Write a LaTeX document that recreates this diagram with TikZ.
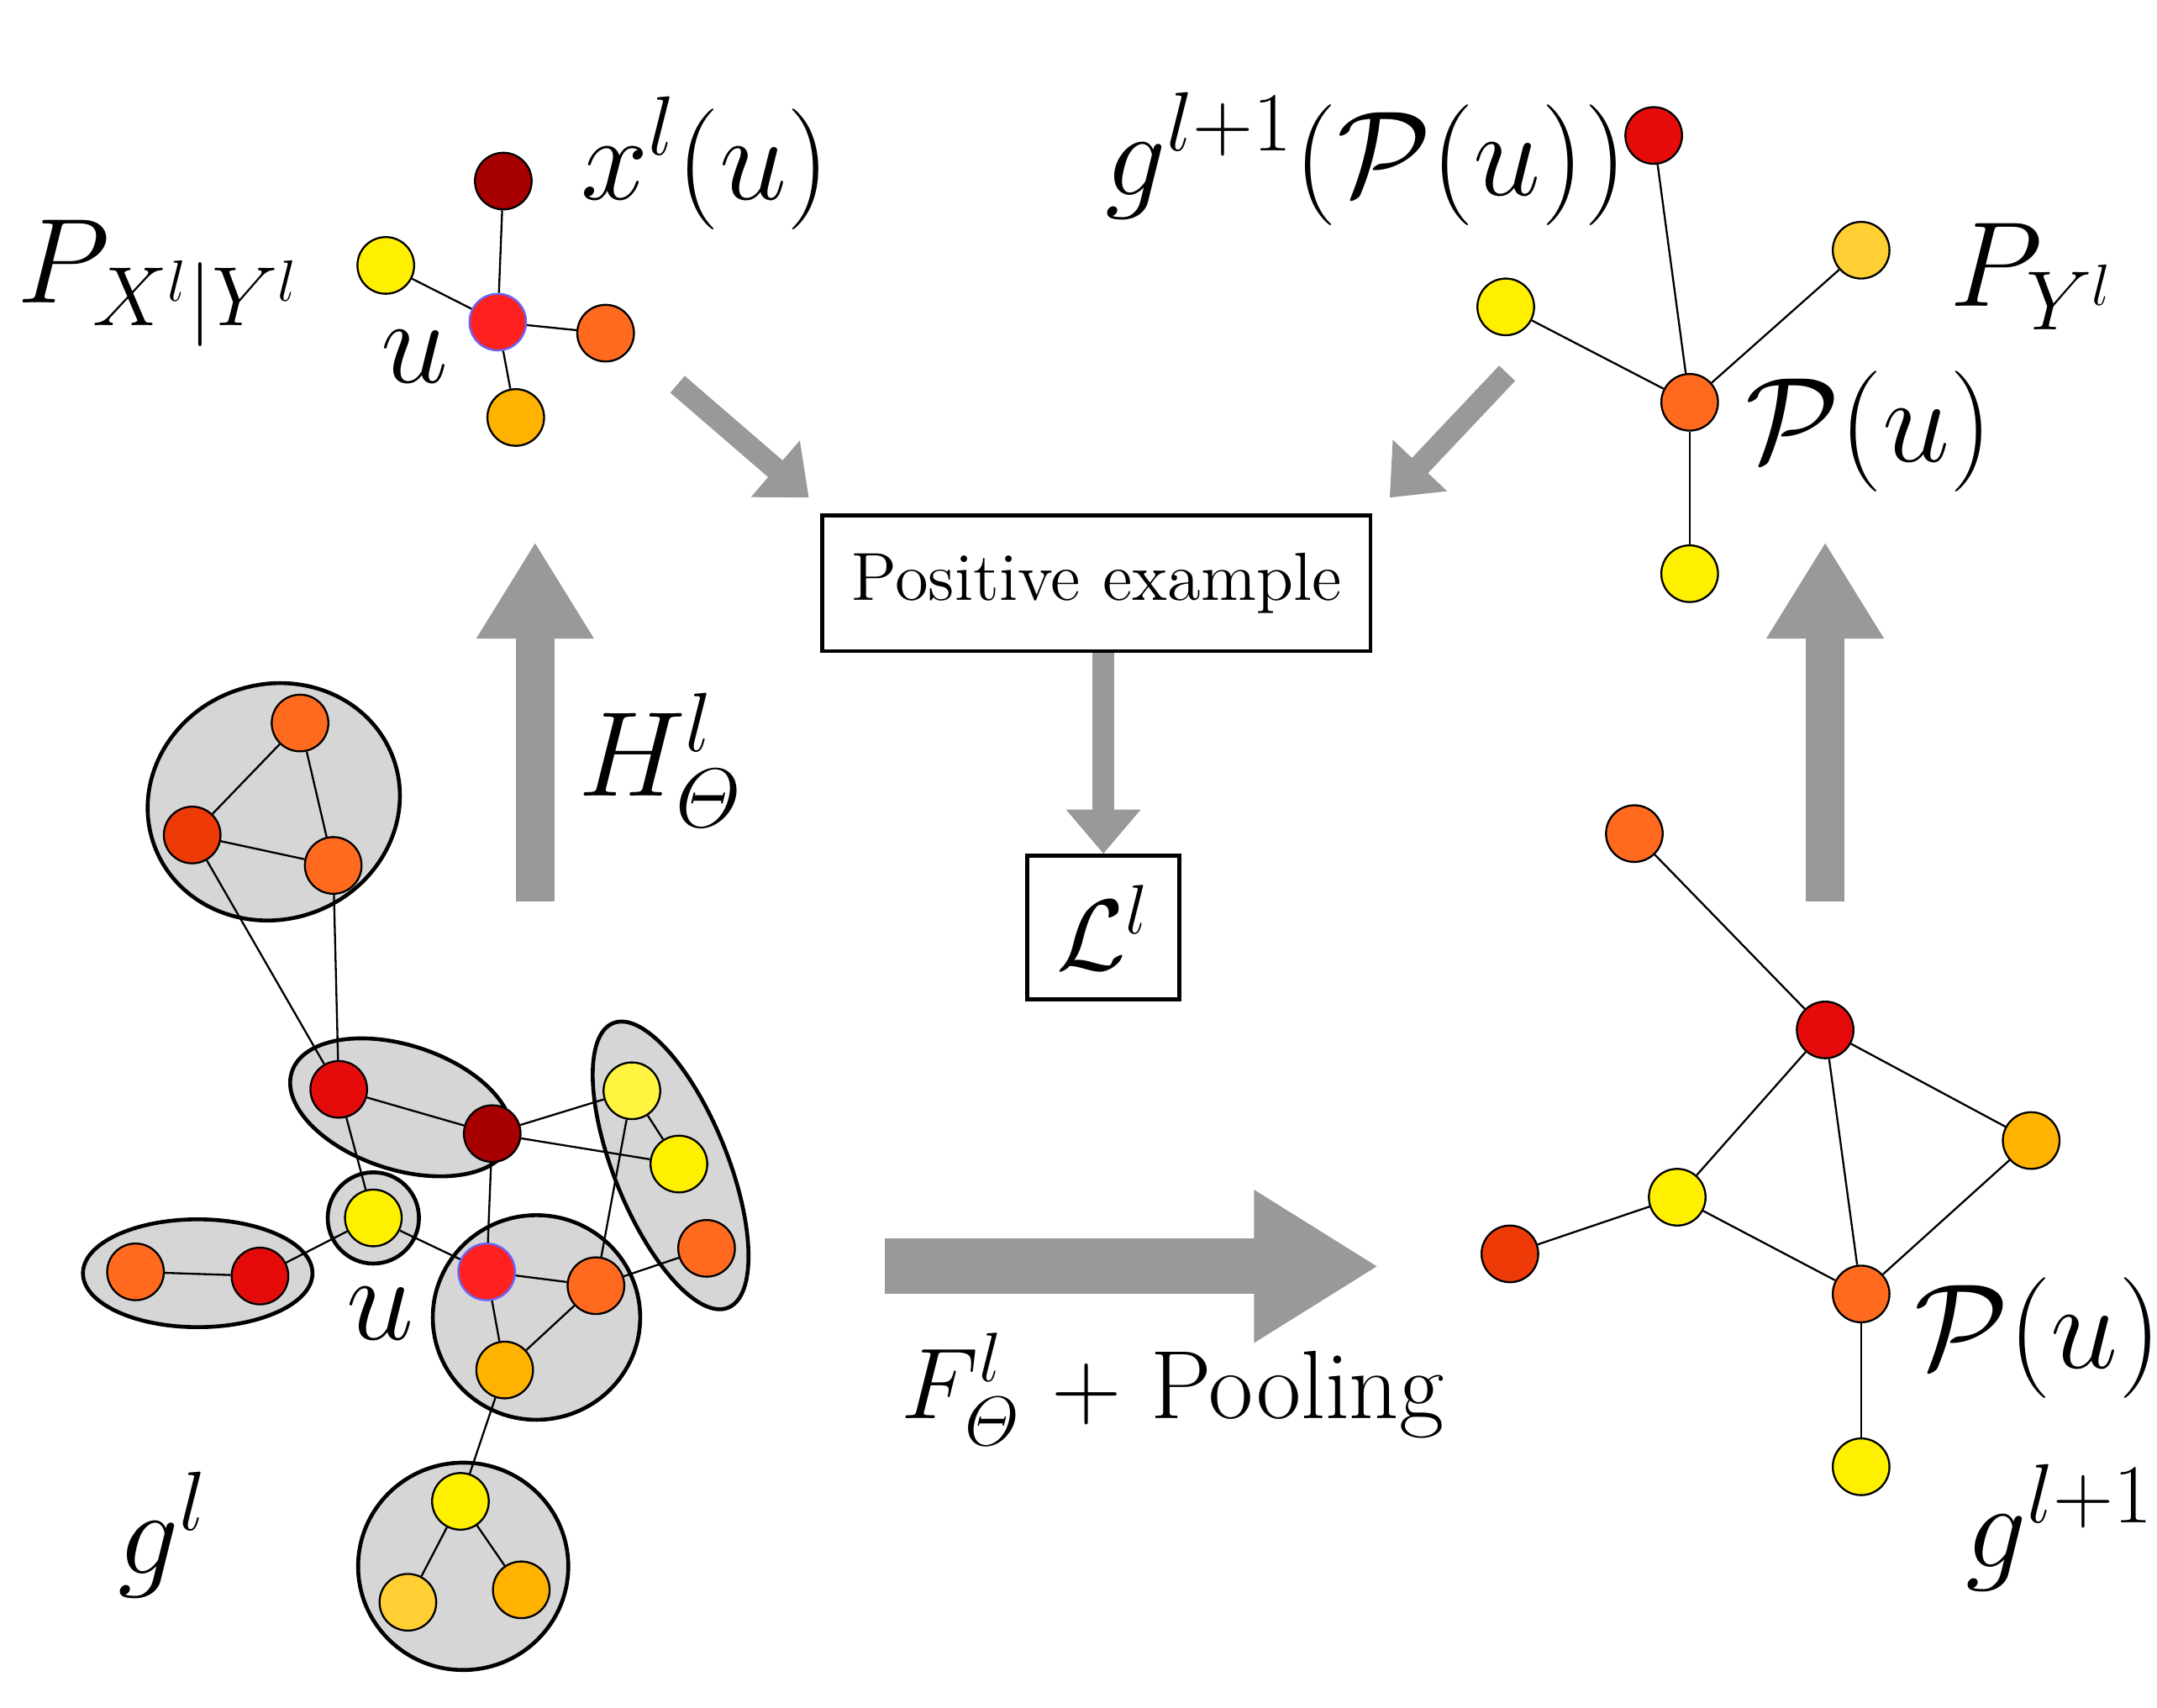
\documentclass[tikz,border=0pt]{standalone}
\usepackage{amsmath,amssymb}
\usepackage{tikz}
\usetikzlibrary{calc,positioning,arrows,arrows.meta,shapes.geometric}
\pgfdeclarelayer{background}
\pgfsetlayers{background,main}
\definecolor{cdark}{HTML}{A80000}
\definecolor{cred}{HTML}{E60B0B}
\definecolor{cured}{HTML}{FF2020}
\definecolor{corange}{HTML}{FF6A1E}
\definecolor{cored}{HTML}{EE3A06}
\definecolor{camber}{HTML}{FFB300}
\definecolor{cgold}{HTML}{FFCF33}
\definecolor{cyellow}{HTML}{FFF000}
\definecolor{clight}{HTML}{FFF540}
\definecolor{carrow}{HTML}{999999}
\tikzset{
    >=stealth',
    vert/.style={circle, draw=black, thin, minimum size=0.41cm, inner sep=0pt},
    cluster/.style={ellipse, draw=black, thick, fill=black!16, inner sep=0pt},
    edge/.style={draw, thin},
    thinarrow/.style={draw=carrow, line width=1.6mm, -{Triangle[length=3.2mm,width=5.2mm]}},
    box/.style={rectangle, draw, thick, inner sep=6pt},
    biglabel/.style={font=\fontsize{23pt}{27pt}\selectfont},
}
\begin{document}
\begin{tikzpicture}[x=0.1mm,y=-0.1mm]
\useasboundingbox (0,0) rectangle (1560,1235);
% clusters
\begin{pgfonlayer}{background}
\node[cluster, minimum width=1.84cm, minimum height=1.7cm, rotate=20] (k1) at (198,580) {};
\node[cluster, minimum width=1.66cm, minimum height=0.9cm, rotate=-18] (k2) at (290,801) {};
\node[cluster, minimum width=0.82cm, minimum height=2.22cm, rotate=22] (k3) at (485,843) {};
\node[cluster, minimum width=0.66cm, minimum height=0.66cm] (k4) at (270,881) {};
\node[cluster, minimum width=1.66cm, minimum height=0.78cm] (k5) at (143,921) {};
\node[cluster, minimum width=1.5cm, minimum height=1.48cm] (k6) at (388,953) {};
\node[cluster, minimum width=1.52cm, minimum height=1.5cm] (k7) at (335,1133) {};
\end{pgfonlayer}
% graph g^l
\node[vert, fill=corange] (a1) at (217,523) {};
\node[vert, fill=cored] (a2) at (139,604) {};
\node[vert, fill=corange] (a3) at (241,626) {};
\node[vert, fill=cred] (b1) at (245,788) {};
\node[vert, fill=cdark] (b2) at (356,820) {};
\node[vert, fill=clight] (c1) at (457,789) {};
\node[vert, fill=cyellow] (c2) at (491,842) {};
\node[vert, fill=corange] (c3) at (511,903) {};
\node[vert, fill=cyellow] (d1) at (270,881) {};
\node[vert, fill=corange] (e1) at (98,920) {};
\node[vert, fill=cred] (e2) at (188,923) {};
\node[vert, fill=cured, draw=blue!60] (f1) at (352,920) {};
\node[vert, fill=corange] (f2) at (431,930) {};
\node[vert, fill=camber] (f3) at (365,991) {};
\node[vert, fill=cyellow] (h1) at (333,1086) {};
\node[vert, fill=cgold] (h2) at (295,1159) {};
\node[vert, fill=camber] (h3) at (377,1150) {};
\foreach \s/\t in {a1/a2,a2/a3,a1/a3,a2/b1,a3/b1,b1/b2,b1/d1,b2/c1,b2/c2,b2/f1,
    d1/e2,e1/e2,d1/f1,f1/f2,f1/f3,f2/f3,f2/c1,f2/c3,c1/c2,f3/h1,h1/h2,h1/h3}
    \draw[edge] (\s) -- (\t);
\node[biglabel] (ul) at (275,950) {$u$};
\node[biglabel] (gl) at (118,1110) {$g^l$};
% graph g^{l+1}
\node[vert, fill=corange] (p1) at (1182,603) {};
\node[vert, fill=cred] (p2) at (1320,745) {};
\node[vert, fill=camber] (p3) at (1469,825) {};
\node[vert, fill=cyellow] (p4) at (1213,866) {};
\node[vert, fill=cored] (p5) at (1092,907) {};
\node[vert, fill=corange] (pu) at (1346,936) {};
\node[vert, fill=cyellow] (p6) at (1346,1061) {};
\foreach \s/\t in {p1/p2,p2/p3,p2/p4,p2/pu,p4/p5,p4/pu,p3/pu,pu/p6}
    \draw[edge] (\s) -- (\t);
\node[biglabel, anchor=west] (pul) at (1372,968) {$\mathcal{P}(u)$};
\node[biglabel] (gl1) at (1490,1105) {$g^{l+1}$};
% star x^l(u)
\node[vert, fill=cured, draw=blue!60] (u) at (360,233) {};
\node[vert, fill=cdark] (x1) at (364,131) {};
\node[vert, fill=cyellow] (x2) at (279,192) {};
\node[vert, fill=corange] (x3) at (438,241) {};
\node[vert, fill=camber] (x4) at (373,302) {};
\foreach \t in {x1,x2,x3,x4} \draw[edge] (u) -- (\t);
\node[biglabel] (pxy) at (115,205) {$P_{X^l|Y^l}$};
\node[biglabel] (xl) at (510,118) {$x^l(u)$};
\node[biglabel] (us) at (300,258) {$u$};
% star g^{l+1}(P(u))
\node[vert, fill=corange] (q) at (1222,291) {};
\node[vert, fill=cred] (y1) at (1196,98) {};
\node[vert, fill=cyellow] (y2) at (1089,222) {};
\node[vert, fill=cgold] (y3) at (1346,181) {};
\node[vert, fill=cyellow] (y4) at (1222,415) {};
\foreach \t in {y1,y2,y3,y4} \draw[edge] (q) -- (\t);
\node[biglabel] (gp) at (988,115) {$g^{l+1}(\mathcal{P}(u))$};
\node[biglabel] (py) at (1470,200) {$P_{Y^l}$};
\node[biglabel, anchor=west] (ql) at (1250,312) {$\mathcal{P}(u)$};
% loss
\node[box, minimum width=3.94cm, minimum height=0.98cm, font=\fontsize{14pt}{17pt}\selectfont] (pos) at (793,422) {Positive example};
\node[box, minimum width=1.04cm, minimum height=1.04cm, font=\fontsize{22pt}{26pt}\selectfont] (loss) at (798,671) {$\mathcal{L}^l$};
\coordinate (s1) at (490,278);
\coordinate (s2) at (1090,270);
\draw[thinarrow] (s1) -- (585,360);
\draw[thinarrow] (s2) -- (1005,360);
\draw[thinarrow] (pos.south -| loss) -- (loss);
% big arrows
\coordinate (h0) at (387,652);
\coordinate (h1t) at (387,392);
\coordinate (r0) at (1320,652);
\coordinate (r1) at (1320,392);
\coordinate (f0) at (640,916);
\coordinate (f1t) at (997,916);
\draw[draw=carrow, line width=2.8mm, -{Triangle[length=7mm,width=8mm]}] (h0) -- (h1t);
\draw[draw=carrow, line width=2.8mm, -{Triangle[length=7mm,width=8mm]}] (r0) -- (r1);
\draw[draw=carrow, line width=4mm, -{Triangle[length=9mm,width=10.4mm]}] (f0) -- (f1t);
\node[biglabel] (hl) at (478,550) {$H^l_{\varTheta}$};
\node[font=\fontsize{20pt}{24pt}\selectfont] (fl) at (848,1005) {$F^l_{\varTheta}$ + Pooling};
\end{tikzpicture}
\end{document}
